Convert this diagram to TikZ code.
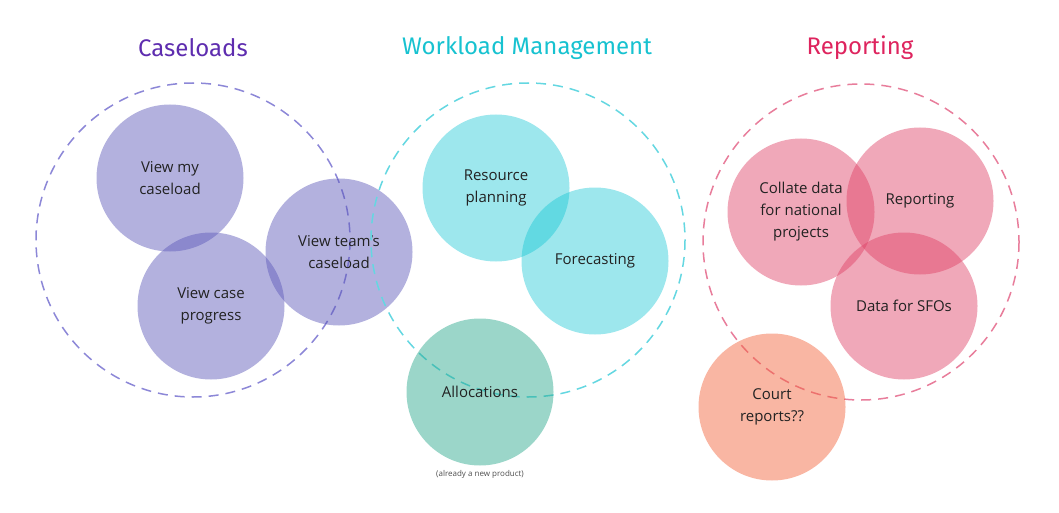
\documentclass[tikz,border=0pt]{standalone}
\usepackage{fontspec}
\setmainfont{Open Sans}
\newfontfamily\titlefont{Fira Sans}
\usetikzlibrary{positioning}

\definecolor{caseTitle}{RGB}{94,45,175}
\definecolor{caseFill}{RGB}{90,86,184}
\definecolor{caseDash}{RGB}{140,135,215}
\definecolor{workTitle}{RGB}{23,194,208}
\definecolor{workFill}{RGB}{10,195,210}
\definecolor{workDash}{RGB}{100,215,225}
\definecolor{allocFill}{RGB}{42,168,140}
\definecolor{repTitle}{RGB}{222,36,94}
\definecolor{repFill}{RGB}{222,62,99}
\definecolor{repDash}{RGB}{232,125,155}
\definecolor{courtFill}{RGB}{242,100,60}
\definecolor{textDark}{RGB}{34,34,34}

\tikzset{
    bubble/.style={circle, minimum size=147pt, inner sep=0pt, align=center,
        fill opacity=0.46, text opacity=1, text=textDark,
        font=\fontsize{15}{22}\selectfont},
    group/.style={line width=1.5pt, dash pattern=on 10pt off 7pt},
    heading/.style={font=\titlefont\fontsize{24}{30}\selectfont}
}

\begin{document}
\begin{tikzpicture}[x=1pt,y=-1pt]
    \useasboundingbox (0,0) rectangle (1059,513);
    \begin{scope}[
        xshift=193pt
    ]
        \node[heading,text=caseTitle] (caseloads) at (0,48) {Caseloads};
        \draw[group,caseDash] (0,240) circle (157);
        \node[bubble,fill=caseFill] (mycase) at (-23,178) {View my\\caseload};
        \node[bubble,fill=caseFill] (progress) at (18,306) {View case\\progress};
        \node[bubble,fill=caseFill] (teamcase) at (146,252) {View team's\\caseload};
    \end{scope}
    \begin{scope}[
        xshift=528pt
    ]
        \node[heading,text=workTitle] (workload) at (-1,48) {Workload Management};
        \draw[group,workDash] (0,240) circle (157);
        \node[bubble,fill=workFill,fill opacity=0.4] (resource) at (-32,188) {Resource\\planning};
        \node[bubble,fill=workFill,fill opacity=0.4] (forecast) at (67,261) {Forecasting};
        \node[bubble,fill=allocFill,fill opacity=0.47] (alloc) at (-48,392) {Allocations};
        \node[below=1pt of alloc,font=\fontsize{8}{10}\selectfont,text=textDark!80] (allocnote) {(already a new product)};
    \end{scope}
    \begin{scope}[
        xshift=861pt
    ]
        \node[heading,text=repTitle] (reporting) at (-1,48) {Reporting};
        \draw[group,repDash] (0,242) circle (158);
        \node[bubble,fill=repFill,fill opacity=0.45] (collate) at (-60,212) {Collate data\\for national\\projects};
        \node[bubble,fill=repFill,fill opacity=0.45] (report) at (59,201) {Reporting};
        \node[bubble,fill=repFill,fill opacity=0.45] (sfos) at (43,306) {Data for SFOs};
        \node[bubble,fill=courtFill,fill opacity=0.47] (court) at (-89,407) {Court\\reports??};
    \end{scope}
\end{tikzpicture}
\end{document}
